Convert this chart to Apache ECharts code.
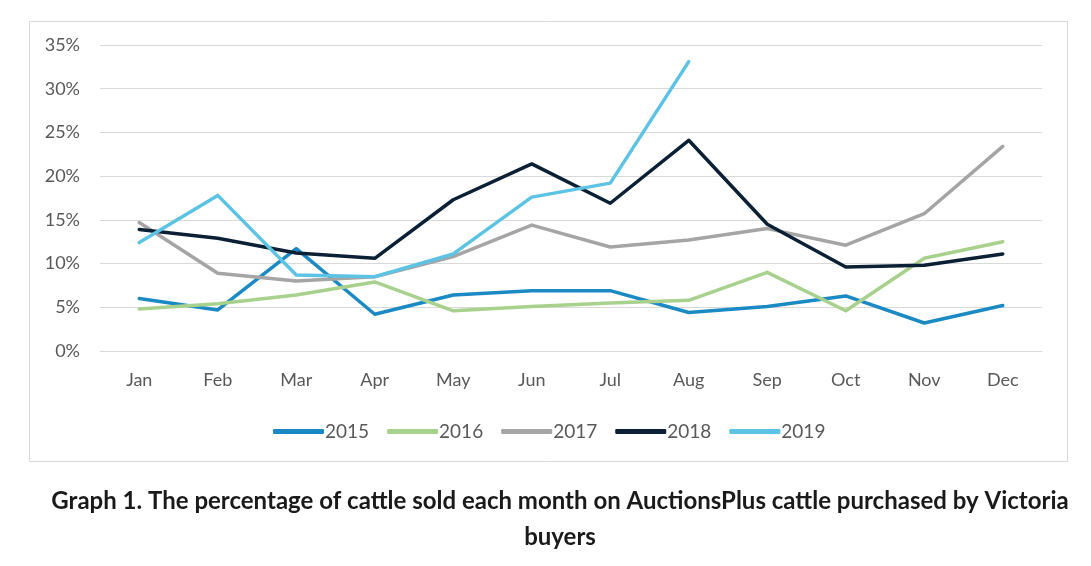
<!DOCTYPE html>
<html>
<head>
<meta charset="utf-8">
<script src="https://cdn.jsdelivr.net/npm/echarts@6/dist/echarts.min.js"></script>
<style>
html,body{margin:0;padding:0;background:#fff;}
#chart{width:1091px;height:566px;}
</style>
</head>
<body>
<div id="chart"></div>
<script>
const months = ['Jan','Feb','Mar','Apr','May','Jun','Jul','Aug','Sep','Oct','Nov','Dec'];
const seriesNames = ['2015','2016','2017','2018','2019'];
const s2015 = [6.0, 4.7, 11.7, 4.2, 6.4, 6.9, 6.9, 4.4, 5.1, 6.3, 3.2, 5.2];
const s2016 = [4.8, 5.4, 6.4, 7.9, 4.6, 5.1, 5.5, 5.8, 9.0, 4.6, 10.6, 12.5];
const s2017 = [14.7, 8.9, 8.0, 8.5, 10.8, 14.4, 11.9, 12.7, 14.0, 12.1, 15.7, 23.4];
const s2018 = [13.9, 12.9, 11.2, 10.6, 17.3, 21.4, 16.9, 24.1, 14.5, 9.6, 9.8, 11.1];
const s2019 = [12.4, 17.8, 8.7, 8.5, 11.1, 17.6, 19.2, 33.1, null, null, null, null];
const yTicks = [0, 5, 10, 15, 20, 25, 30, 35];
const titleText = 'Graph 1. The percentage of cattle sold each month on AuctionsPlus cattle purchased by Victoria\nbuyers';

const colors = ['#1b8ac4', '#a9d18e', '#a5a5a5', '#0c2035', '#5cc3e4'];
const dataSets = [s2015, s2016, s2017, s2018, s2019];
const FONT = 'Lato, "Open Sans", sans-serif';

const chart = echarts.init(document.getElementById('chart'), null, {renderer: 'canvas'});
chart.setOption({
  animation: false,
  backgroundColor: '#fff',
  color: colors,
  graphic: [{
    type: 'rect',
    shape: {x: 29.5, y: 21.5, width: 1038, height: 440},
    style: {fill: null, stroke: '#d9d9d9', lineWidth: 1},
    z: -1
  }, {
    type: 'text',
    x: 560,
    y: 483,
    style: {
      text: titleText,
      textAlign: 'center',
      fontFamily: FONT,
      fontWeight: 'bold',
      fontSize: 24,
      lineHeight: 36,
      fill: '#1a1a1a'
    }
  }],
  legend: {
    data: seriesNames,
    top: 417,
    left: 268,
    itemWidth: 51,
    itemHeight: 5,
    itemGap: 18,
    icon: 'roundRect',
    textStyle: {fontFamily: FONT, fontSize: 19, color: '#595959', padding: [0,0,0,-4]}
  },
  grid: {left: 100, right: 49, top: 45, bottom: 215, containLabel: false},
  xAxis: {
    type: 'category',
    data: months,
    boundaryGap: true,
    axisLine: {show: true, lineStyle: {color: '#d9d9d9'}},
    axisTick: {show: false},
    axisLabel: {fontFamily: FONT, fontSize: 18, color: '#595959', margin: 20}
  },
  yAxis: {
    type: 'value',
    min: 0,
    max: 35,
    interval: 5,
    axisLine: {show: false},
    axisTick: {show: false},
    splitLine: {lineStyle: {color: '#d9d9d9', width: 1}},
    axisLabel: {
      fontFamily: FONT, fontSize: 18, color: '#595959', margin: 20,
      formatter: v => yTicks.includes(v) ? v + '%' : ''
    }
  },
  series: dataSets.map((d, i) => ({
    name: seriesNames[i],
    type: 'line',
    data: d,
    symbol: 'none',
    lineStyle: {width: 3.5, color: colors[i], join: 'round', cap: 'round'},
    itemStyle: {color: colors[i]},
    connectNulls: false
  }))
});
</script>
</body>
</html>
